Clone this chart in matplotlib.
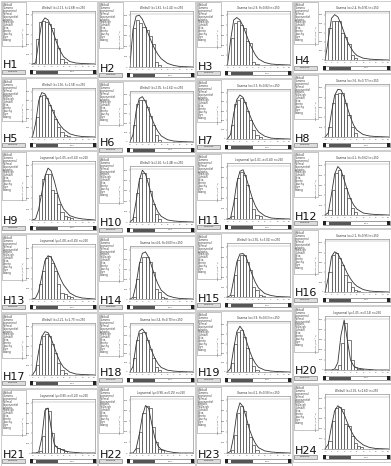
import matplotlib.pyplot as plt
from matplotlib.patches import Rectangle

# panel names and the grid they sit in (4 columns, 6 rows, column-major by row)
labels = ['H%d' % i for i in range(1, 25)]
col_x = [(0, 97), (97, 195), (195, 292), (292, 391)]
row_tops = [
    [0, 77, 150, 233, 312, 388, 466],
    [0, 80, 155, 235, 312, 385, 466],
    [0, 78, 152, 232, 310, 385, 466],
    [0, 73, 150, 228, 305, 383, 462],
]

# fitted curve sample points (shared x), histogram bins of 0.5 starting at 0
curve_x = [0, 0.5, 1, 1.5, 2, 2.5, 3, 3.5, 4, 4.5, 5, 6, 7, 8, 10]
bin_w = 0.5

bars = [
    [0, 0.5, 0.85, 0.88, 0.85, 0.82, 0.73, 0.5, 0.33, 0.1, 0.04],
    [0, 0.75, 0.9, 0.85, 0.78, 0.72, 0.6, 0.45, 0.1, 0.04],
    [0, 0.55, 0.85, 0.88, 0.8, 0.75, 0.48, 0.45, 0.06, 0.03],
    [0, 0.7, 0.85, 0.85, 0.85, 0.6, 0.5, 0.35, 0.12, 0.05],
    [0, 0.45, 0.9, 0.92, 0.85, 0.7, 0.6, 0.4, 0.22, 0.1, 0.05, 0.03],
    [0, 0.35, 0.8, 0.88, 0.9, 0.75, 0.55, 0.35, 0.15, 0.05],
    [0, 0.3, 0.75, 0.85, 0.88, 0.8, 0.6, 0.4, 0.2, 0.08, 0.04],
    [0, 0.2, 0.7, 0.88, 0.9, 0.9, 0.7, 0.45, 0.2, 0.08],
    [0, 0, 0.45, 0.75, 0.85, 0.85, 0.55, 0.5, 0.3, 0.15, 0.08, 0.05, 0.03],
    [0, 0.1, 0.55, 0.85, 0.95, 0.85, 0.6, 0.35, 0.15, 0.06],
    [0, 0.05, 0.4, 0.8, 0.9, 0.85, 0.65, 0.4, 0.2, 0.08, 0.05],
    [0, 0.1, 0.5, 0.85, 0.9, 0.8, 0.55, 0.35, 0.15, 0.06],
    [0, 0, 0.3, 0.55, 0.8, 0.85, 0.7, 0.55, 0.3, 0.12, 0.1, 0.05, 0.03],
    [0, 0.05, 0.4, 0.75, 0.85, 0.85, 0.75, 0.55, 0.2, 0.15, 0.05, 0.03],
    [0, 0.05, 0.45, 0.75, 0.85, 0.85, 0.7, 0.55, 0.2, 0.15, 0.05, 0.03],
    [0, 0.4, 0.75, 0.8, 0.7, 0.55, 0.35, 0.2, 0.1, 0.05, 0.03],
    [0, 0.2, 0.65, 0.8, 0.85, 0.8, 0.65, 0.45, 0.25, 0.1, 0.05],
    [0, 0.3, 0.7, 0.85, 0.88, 0.7, 0.5, 0.3, 0.12, 0.05],
    [0, 0.2, 0.6, 0.85, 0.9, 0.75, 0.5, 0.3, 0.12, 0.05],
    [0, 0, 0, 0.02, 0.1, 0.55, 0.95, 0.6, 0.2, 0.06, 0.03, 0.02],
    [0, 0, 0.05, 0.35, 0.9, 0.85, 0.4, 0.15, 0.1, 0.08, 0.04],
    [0, 0, 0.1, 0.4, 0.75, 0.9, 0.85, 0.5, 0.2, 0.08, 0.05],
    [0, 0.05, 0.35, 0.75, 0.9, 0.8, 0.55, 0.3, 0.15, 0.05],
    [0, 0.15, 0.55, 0.8, 0.82, 0.78, 0.5, 0.45, 0.25, 0.12, 0.06, 0.03],
]

curves = [
    [0, 0.02, 0.45, 0.85, 0.94, 0.9, 0.76, 0.58, 0.4, 0.26, 0.15, 0.05, 0.02, 0.01, 0],
    [0, 0.72, 0.98, 1.0, 0.92, 0.78, 0.62, 0.47, 0.34, 0.24, 0.16, 0.07, 0.03, 0.01, 0],
    [0, 0.5, 0.9, 0.95, 0.9, 0.78, 0.62, 0.45, 0.32, 0.2, 0.12, 0.05, 0.02, 0.01, 0],
    [0, 0.45, 0.92, 1.0, 0.95, 0.8, 0.6, 0.42, 0.28, 0.17, 0.1, 0.04, 0.02, 0.01, 0],
    [0, 0.3, 0.8, 0.98, 0.95, 0.82, 0.66, 0.5, 0.36, 0.25, 0.17, 0.07, 0.03, 0.01, 0],
    [0, 0.15, 0.65, 0.92, 0.96, 0.85, 0.68, 0.5, 0.34, 0.22, 0.13, 0.05, 0.02, 0.01, 0],
    [0, 0.1, 0.55, 0.85, 0.95, 0.9, 0.74, 0.55, 0.38, 0.25, 0.15, 0.06, 0.02, 0.01, 0],
    [0, 0.08, 0.5, 0.85, 0.97, 0.96, 0.82, 0.6, 0.4, 0.24, 0.14, 0.05, 0.02, 0.01, 0],
    [0, 0.02, 0.2, 0.5, 0.8, 0.95, 0.9, 0.72, 0.5, 0.32, 0.2, 0.08, 0.04, 0.02, 0],
    [0, 0.05, 0.4, 0.8, 1.0, 0.92, 0.72, 0.5, 0.32, 0.19, 0.11, 0.04, 0.02, 0.01, 0],
    [0, 0.02, 0.3, 0.7, 0.92, 0.95, 0.8, 0.6, 0.4, 0.25, 0.15, 0.06, 0.02, 0.01, 0],
    [0, 0.05, 0.42, 0.82, 0.97, 0.9, 0.7, 0.5, 0.32, 0.2, 0.12, 0.04, 0.02, 0.01, 0],
    [0, 0.02, 0.15, 0.45, 0.75, 0.85, 0.82, 0.7, 0.55, 0.4, 0.28, 0.12, 0.05, 0.02, 0],
    [0, 0.03, 0.3, 0.7, 0.93, 0.96, 0.85, 0.66, 0.46, 0.3, 0.18, 0.07, 0.03, 0.01, 0],
    [0, 0.03, 0.35, 0.7, 0.86, 0.87, 0.8, 0.62, 0.44, 0.29, 0.18, 0.07, 0.03, 0.01, 0],
    [0, 0.3, 0.72, 0.82, 0.78, 0.66, 0.52, 0.38, 0.27, 0.18, 0.12, 0.05, 0.02, 0.01, 0],
    [0, 0.1, 0.5, 0.8, 0.9, 0.88, 0.76, 0.58, 0.4, 0.26, 0.16, 0.06, 0.02, 0.01, 0],
    [0, 0.12, 0.6, 0.9, 0.95, 0.85, 0.66, 0.46, 0.3, 0.18, 0.1, 0.04, 0.02, 0.01, 0],
    [0, 0.08, 0.5, 0.85, 0.97, 0.88, 0.68, 0.47, 0.3, 0.18, 0.1, 0.04, 0.02, 0.01, 0],
    [0, 0, 0, 0.02, 0.15, 0.7, 1.0, 0.6, 0.2, 0.08, 0.04, 0.02, 0.01, 0, 0],
    [0, 0, 0.02, 0.3, 0.85, 0.9, 0.5, 0.18, 0.1, 0.08, 0.05, 0.02, 0.01, 0, 0],
    [0, 0, 0.08, 0.35, 0.7, 0.9, 0.85, 0.55, 0.28, 0.13, 0.07, 0.03, 0.01, 0, 0],
    [0, 0.03, 0.32, 0.75, 0.95, 0.88, 0.68, 0.46, 0.3, 0.18, 0.1, 0.04, 0.02, 0.01, 0],
    [0, 0.1, 0.45, 0.75, 0.85, 0.8, 0.68, 0.52, 0.38, 0.26, 0.18, 0.08, 0.03, 0.01, 0],
]

titles = [
    'Weibull (k=2.13, \u03bb=2.68) n=250', 'Weibull (k=1.62, \u03bb=2.41) n=250',
    'Gamma (\u03b1=2.9, \u03b8=0.84) n=250', 'Gamma (\u03b1=2.4, \u03b8=0.91) n=250',
    'Weibull (k=1.96, \u03bb=2.55) n=250', 'Weibull (k=2.05, \u03bb=2.62) n=250',
    'Gamma (\u03b1=3.3, \u03b8=0.82) n=250', 'Gamma (\u03b1=3.6, \u03b8=0.77) n=250',
    'Lognormal (\u03bc=1.05, \u03c3=0.42) n=250', 'Weibull (k=2.40, \u03bb=2.48) n=250',
    'Lognormal (\u03bc=1.01, \u03c3=0.40) n=250', 'Gamma (\u03b1=4.1, \u03b8=0.62) n=250',
    'Lognormal (\u03bc=1.08, \u03c3=0.45) n=250', 'Gamma (\u03b1=4.6, \u03b8=0.60) n=250',
    'Weibull (k=2.55, \u03bb=3.01) n=250', 'Gamma (\u03b1=2.2, \u03b8=0.95) n=250',
    'Weibull (k=2.21, \u03bb=2.77) n=250', 'Gamma (\u03b1=3.4, \u03b8=0.70) n=250',
    'Gamma (\u03b1=3.9, \u03b8=0.63) n=250', 'Lognormal (\u03bc=1.05, \u03c3=0.14) n=250',
    'Lognormal (\u03bc=0.80, \u03c3=0.20) n=250', 'Lognormal (\u03bc=0.98, \u03c3=0.25) n=250',
    'Gamma (\u03b1=4.2, \u03b8=0.58) n=250', 'Weibull (k=2.02, \u03bb=2.60) n=250',
]

dist_list = ['Weibull', 'Gamma', 'Lognormal', 'Normal', 'Exponential', 'Logistic',
             'Rayleigh', 'Gumbel', 'Beta', 'Pareto', 'Cauchy', 'Burr', 'Erlang']

W, H = 391, 466
fig = plt.figure(figsize=(W / 100, H / 100), dpi=100)
bg = fig.add_axes([0, 0, 1, 1])
bg.set_xlim(0, W)
bg.set_ylim(H, 0)
bg.axis('off')

tiny = 2.0
for i, name in enumerate(labels):
    r, c = divmod(i, 4)
    x0, x1 = col_x[c]
    y0, y1 = row_tops[c][r], row_tops[c][r + 1]
    w, h = x1 - x0, y1 - y0

    # panel frame
    bg.add_patch(Rectangle((x0 + 0.5, y0 + 0.5), w - 1, h - 1, fill=False, ec='#bbbbbb', lw=0.5))
    # list box on the left
    bg.add_patch(Rectangle((x0 + 1.5, y0 + 1.5), 24, h * 0.58, fill=False, ec='#999999', lw=0.4))
    for k, d in enumerate(dist_list):
        bg.text(x0 + 3, y0 + 5 + k * 2.9, d, fontsize=tiny, color='#444444', va='center')
    # panel label and button
    bg.text(x0 + 3, y1 - 8.5, name, fontsize=8, color='#111111', va='baseline')
    bg.add_patch(Rectangle((x0 + 2, y1 - 7.5), 23, 4, fc='#dddddd', ec='#666666', lw=0.4))
    bg.text(x0 + 13.5, y1 - 5.5, 'Compute', fontsize=1.6, ha='center', va='center', color='#333333')

    # slider under the histogram
    sl, sr = x0 + 0.31 * w, x1 - 1.5
    bg.add_patch(Rectangle((sl, y1 - 7), sr - sl, 4, fc='white', ec='#555555', lw=0.4))
    bg.add_patch(Rectangle((sl + 6, y1 - 6.5), (sr - sl) * 0.33, 3, fc='#555555', ec='none'))
    bg.add_patch(Rectangle((sl, y1 - 7), 3, 4, fc='#222222', ec='none'))
    bg.add_patch(Rectangle((sr - 3, y1 - 7), 3, 4, fc='#222222', ec='none'))
    bg.text(sl + (sr - sl) * 0.65, y1 - 5, '5.00', fontsize=1.6, ha='center', va='center', color='#444444')

    # histogram axes
    ax = fig.add_axes([(x0 + 0.335 * w) / W, 1 - (y1 - 13) / H,
                       0.64 * w / W, (h - 24) / H])
    lefts = [k * bin_w for k in range(len(bars[i]))]
    ax.bar(lefts, bars[i], width=bin_w, align='edge', fc='white', ec='#333333', lw=0.45)
    ax.plot(curve_x, curves[i], color='#333333', lw=0.6)
    ax.set_xlim(0, 10)
    ax.set_ylim(0, 1.08)
    ax.set_xticks(range(0, 11))
    ax.set_yticks([0, 0.2, 0.4, 0.6, 0.8, 1.0])
    ax.set_yticklabels(['0', '100', '200', '300', '400', '500'])
    ax.tick_params(labelsize=1.6, length=1, width=0.3, pad=0.6, colors='#444444')
    for s in ax.spines.values():
        s.set_linewidth(0.4)
        s.set_color('#777777')
    ax.axhline(1.03, color='#999999', lw=0.3)
    ax.set_title(titles[i], fontsize=1.9, pad=1.5, color='#333333')
    ax.set_ylabel('Density (x10^-3)', fontsize=1.6, labelpad=0.8, color='#444444')

fig.savefig('out.png', dpi=100)
